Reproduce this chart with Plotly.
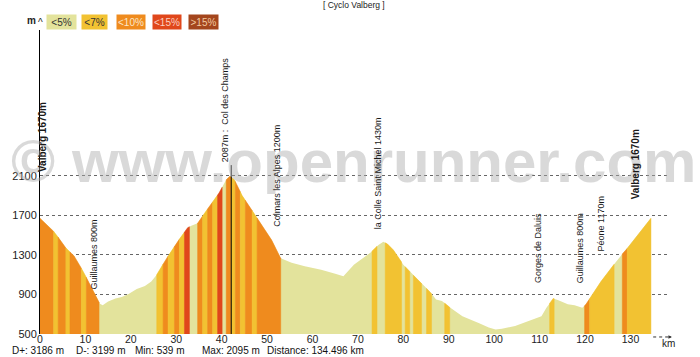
import numpy as np
import plotly.graph_objects as go

# ---------------- data ----------------
km = [0, 1.5, 2.8, 4.3, 5.7, 7.5, 9.3, 11.2, 12.6, 13.2, 13.8, 15, 16.6, 18, 19.5, 21.3,
      23.1, 24.5, 25.7, 27.8, 30.7, 32.5, 33.3, 34.7, 36.5, 38, 39.4, 41.0, 41.8, 42.8,
      44.5, 47.4, 51, 53, 55.4, 58.3, 61.9, 65, 66.8, 69.1, 72.8, 74.5, 75.6, 76.5, 77.8,
      80, 82.9, 85.8, 87.2, 88.5, 90.2, 93, 96.7, 98.8, 100.3, 101.7, 104.6, 107.5, 110.4,
      111.5, 113.0, 114.0, 116.2, 117.7, 119.4, 120.2, 123.5, 126.4, 128.2, 129.3, 134.5]
elev = [1670, 1605, 1550, 1460, 1370, 1290, 1150, 985, 850, 805, 790, 830, 860, 875, 905, 955,
        985, 1030, 1100, 1260, 1460, 1575, 1595, 1620, 1740, 1835, 1925, 2060, 2095, 2060,
        1900, 1700, 1450, 1265, 1220, 1185, 1150, 1110, 1085, 1200, 1325, 1400, 1432, 1410, 1350,
        1200, 1060, 930, 850, 835, 770, 680, 610, 567, 545, 553, 580, 630, 680,
        765, 860, 845, 800, 790, 765, 800, 1030, 1205, 1310, 1365, 1670]

seg_start = [0, 3.0, 4.0, 5.7, 6.6, 9.1, 10.2, 13.0, 25.7, 27.1, 28.2, 29.6, 30.7, 31.8, 32.9,
             34.7, 35.8, 36.9, 38.0, 39.1, 40.1, 41.0, 42.1, 43.0, 44.1, 45.2, 46.7, 47.8, 53.0,
             73.1, 74.2, 76.0, 79.6, 80.4, 81.4, 82.2, 84.0, 85.1, 86.2, 89.1, 90.2, 112.2, 113.2,
             119.9, 121.0, 126.4, 128.2, 129.3]
seg_cat = [2, 1, 2, 1, 2, 1, 2, 0, 1, 2, 1, 2, 1, 3, 0,
           2, 1, 2, 1, 3, 0, 2, 1, 2, 1, 2, 1, 2, 0,
           1, 0, 1, 0, 1, 0, 1, 0, 1, 0, 1, 0, 1, 0,
           2, 1, 0, 2, 1]
total_km = 134.5

cat_labels = ["&lt;5%", "&lt;7%", "&lt;10%", "&lt;15%", "&gt;15%"]
cat_colors = ["#e3e39c", "#f2c232", "#ef8b1e", "#e0471b", "#a4461d"]
cat_text = ["#333333", "#333333", "#fbe6c8", "#fbd0c0", "#f3c9a0"]

x_ticks = list(range(0, 131, 10))
y_ticks = [500, 900, 1300, 1700, 2100]

places = ["Valberg 1670m", "Guillaumes 800m", "2087m :  Col des Champs", "Colmars les Alpes 1200m",
          "la Colle Saint Michel 1430m", "Gorges de Daluis", "Guillaumes 800m", "Péone 1170m",
          "Valberg 1670m"]
place_km = [1.74, 13.26, 41.96, 53.5, 75.6, 111.1, 120.2, 124.9, 132.6]
summit_km = 42.1

stats = ["D+: 3186 m", "D-: 3199 m", "Min: 539 m", "Max: 2095 m", "Distance: 134.496 km"]
title = "[ Cyclo Valberg ]"

# ---------------- layout helpers ----------------
W, H = 700, 357
L, R, T, B = 32, 33, 30, 21
PW, PH = W - L - R, H - T - B
YMIN, YMAX = 500, 3575
XMAX = PW / 4.6
FONT = "Liberation Sans, Arial, sans-serif"
LABEL_SHIFT_KM = -1.3


def px(x):
    return (x - L) / PW


def py(y):
    return (H - B - y) / PH


def py_to_elev(y):
    return YMIN + (H - B - y) / PH * (YMAX - YMIN)


km_a = np.array(km, dtype=float)
el_a = np.array(elev, dtype=float)


def poly(a, b):
    inner = km_a[(km_a > a) & (km_a < b)]
    xs = np.concatenate([[a], inner, [b]])
    ys = np.interp(xs, km_a, el_a)
    return list(xs) + [b, a, a], list(ys) + [YMIN, YMIN, ys[0]]


fig = go.Figure()

# base profile
bx, by = poly(0, total_km)
fig.add_trace(go.Scatter(x=bx, y=by, fill="toself", fillcolor=cat_colors[0], mode="lines",
                         line=dict(width=0, color=cat_colors[0]), hoverinfo="skip", showlegend=False))

ends = seg_start[1:] + [total_km]
for a, b, c in zip(seg_start, ends, seg_cat):
    if c == 0:
        continue
    xs, ys = poly(a, b)
    fig.add_trace(go.Scatter(x=xs, y=ys, fill="toself", fillcolor=cat_colors[c], mode="lines",
                             line=dict(width=0.5, color=cat_colors[c]), hoverinfo="skip",
                             showlegend=False))

# summit line
fig.add_shape(type="line", xref="x", yref="y", x0=summit_km, x1=summit_km,
              y0=YMIN, y1=py_to_elev(166), line=dict(color="black", width=1))

ann = []
# watermark
ann.append(dict(text="<b>© www.openrunner.com</b>", xref="paper", yref="paper",
                x=px(349), y=py(162), xanchor="center", yanchor="middle", showarrow=False,
                font=dict(family=FONT, size=60, color="rgba(170,170,170,0.45)")))

# vertical place labels
bottoms = [175, 293, 165, 230, 232, 287, 287, 255, 202]
for i, (t, k, bt) in enumerate(zip(places, place_km, bottoms)):
    bold = t.startswith("Valberg")
    ann.append(dict(text=f"<b>{t}</b>" if bold else t, xref="x", yref="y", x=k + LABEL_SHIFT_KM,
                    y=py_to_elev(bt), xanchor="center", yanchor="bottom", textangle=-90,
                    showarrow=False,
                    font=dict(family=FONT, size=10 if bold else 9, color="#1a1a1a")))

# legend boxes
box_x = [(39, 68), (75, 100), (110, 138), (147, 175), (183, 212)]
for (x0, x1), lab, col, tc in zip(box_x, cat_labels, cat_colors, cat_text):
    ann.append(dict(text=lab, xref="paper", yref="paper", x=px((x0 + x1) / 2), y=py(22),
                    xanchor="center", yanchor="middle", showarrow=False, bgcolor=col,
                    width=x1 - x0, height=14, borderpad=0,
                    font=dict(family=FONT, size=10, color=tc)))

# title
ann.append(dict(text=title, xref="paper", yref="paper", x=px(350), y=py(5), xanchor="center",
                yanchor="middle", showarrow=False, font=dict(family=FONT, size=8.5, color="#222")))
# m ^
ann.append(dict(text="<b>m</b>", xref="paper", yref="paper", x=px(23), y=py(20), xanchor="center",
                yanchor="middle", showarrow=False, font=dict(family=FONT, size=10, color="#222")))
ann.append(dict(text="^", xref="paper", yref="paper", x=px(32), y=py(22), xanchor="center",
                yanchor="middle", showarrow=False, font=dict(family=FONT, size=10, color="#222")))
# km arrow
fig.add_shape(type="line", xref="paper", yref="paper", x0=px(653), x1=px(668), y0=py(339),
              y1=py(339), line=dict(color="#333", width=1, dash="dot"))
ann.append(dict(text="", xref="paper", yref="paper", x=px(672), y=py(339), ax=-5, ay=0,
                showarrow=True, arrowhead=2, arrowsize=0.7, arrowwidth=1, arrowcolor="#333"))
ann.append(dict(text="km", xref="paper", yref="paper", x=px(669), y=py(346), xanchor="center",
                yanchor="middle", showarrow=False, font=dict(family=FONT, size=10, color="#222")))
# stats
stat_x = [2, 66, 126, 194, 260]
for s, sx in zip(stats, stat_x):
    ann.append(dict(text=s, xref="paper", yref="paper", x=px(sx), y=py(352.5), xanchor="left",
                    yanchor="middle", showarrow=False, font=dict(family=FONT, size=10, color="#111")))

fig.update_layout(
    width=W, height=H, margin=dict(l=L, r=R, t=T, b=B, pad=0),
    paper_bgcolor="white", plot_bgcolor="white", showlegend=False,
    annotations=ann,
    xaxis=dict(range=[0, XMAX], tickvals=x_ticks, ticktext=[str(v) for v in x_ticks],
               showgrid=False, zeroline=False, showline=False, ticks="", ticklabelstandoff=-3,
               tickfont=dict(family=FONT, size=10.5, color="#222"), fixedrange=True),
    yaxis=dict(range=[YMIN, YMAX], tickvals=y_ticks, ticktext=[str(v) for v in y_ticks],
               showgrid=True, gridcolor="#666", griddash="dot", gridwidth=1,
               zeroline=False, showline=True, linecolor="black", linewidth=1, ticks="",
               tickfont=dict(family=FONT, size=11, color="#222"), fixedrange=True),
)

fig.write_html("out.html")
